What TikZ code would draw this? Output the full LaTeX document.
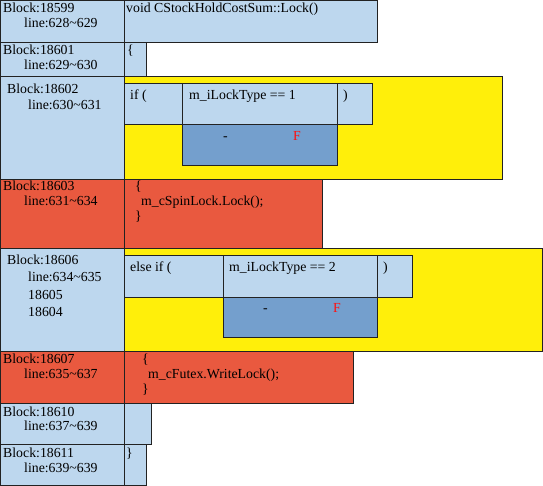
\documentclass[tikz,border=0pt]{standalone}
\usepackage{fontspec}
\setmainfont{Liberation Serif}
\definecolor{lb}{HTML}{BDD7EE}
\definecolor{db}{HTML}{749FCD}
\definecolor{yl}{HTML}{FFEF0A}
\definecolor{rd}{HTML}{E9593F}
\definecolor{bd}{HTML}{222222}
\definecolor{fr}{HTML}{FF1010}
\begin{document}
\begin{tikzpicture}[x=1pt,y=-1pt,
  box/.style={draw=bd, line width=1pt, inner sep=0pt, outer sep=0pt, anchor=north west},
  txt/.style={anchor=base west, inner sep=0pt, font=\fontsize{13.8}{15}\selectfont}]
\useasboundingbox (0,0) rectangle (543,486);
% row 1
\node[box, fill=lb, minimum width=124pt, minimum height=42pt] (l1) at (0.5,0.5) {};
\node[box, fill=lb, minimum width=253pt, minimum height=42pt] (r1) at (124.5,0.5) {};
% row 2
\node[box, fill=lb, minimum width=124pt, minimum height=34pt] (l2) at (0.5,42.5) {};
\node[box, fill=lb, minimum width=21.5pt, minimum height=34pt] (r2) at (124.5,42.5) {};
% row 3
\node[box, fill=lb, minimum width=124pt, minimum height=103pt] (l3) at (0.5,76.5) {};
\node[box, fill=yl, minimum width=378pt, minimum height=103pt] (y3) at (124.5,76.5) {};
\node[box, fill=lb, minimum width=58pt, minimum height=41pt] (if3) at (124.5,83.5) {};
\node[box, fill=lb, minimum width=155pt, minimum height=41pt] (c3) at (182.5,83.5) {};
\node[box, fill=lb, minimum width=35pt, minimum height=41pt] (p3) at (337.5,83.5) {};
\node[box, fill=db, minimum width=155pt, minimum height=41pt] (d3) at (182.5,124.5) {};
% row 4
\node[box, fill=rd, minimum width=124pt, minimum height=69pt] (l4) at (0.5,179.5) {};
\node[box, fill=rd, minimum width=197.5pt, minimum height=69pt] (r4) at (124.5,179.5) {};
% row 5
\node[box, fill=lb, minimum width=124pt, minimum height=102.5pt] (l5) at (0.5,248.5) {};
\node[box, fill=yl, minimum width=418pt, minimum height=102.5pt] (y5) at (124.5,248.5) {};
\node[box, fill=lb, minimum width=98.5pt, minimum height=41.5pt] (if5) at (124.5,255.5) {};
\node[box, fill=lb, minimum width=154.5pt, minimum height=41.5pt] (c5) at (223,255.5) {};
\node[box, fill=lb, minimum width=35pt, minimum height=41.5pt] (p5) at (377.5,255.5) {};
\node[box, fill=db, minimum width=154.5pt, minimum height=40.5pt] (d5) at (223,297) {};
% row 6
\node[box, fill=rd, minimum width=124pt, minimum height=52.5pt] (l6) at (0.5,351) {};
\node[box, fill=rd, minimum width=228.5pt, minimum height=52.5pt] (r6) at (124.5,351) {};
% row 7
\node[box, fill=lb, minimum width=124pt, minimum height=41pt] (l7) at (0.5,403.5) {};
\node[box, fill=lb, minimum width=26.5pt, minimum height=41pt] (r7) at (124.5,403.5) {};
% row 8
\node[box, fill=lb, minimum width=124pt, minimum height=41pt] (l8) at (0.5,444.5) {};
\node[box, fill=lb, minimum width=21.5pt, minimum height=41pt] (r8) at (124.5,444.5) {};
% texts row 1
\node[txt] (b1) at (3,13) {Block:18599};
\node[txt] (n1) at (24,28) {line:628\char`~629};
\node[txt] (s1) at (126,13) {void CStockHoldCostSum::Lock()};
% row 2
\node[txt] (b2) at (3,55) {Block:18601};
\node[txt] (n2) at (24,70) {line:629\char`~630};
\node[txt] (s2) at (127,55) {\{};
% row 3
\node[txt] (b3) at (7,94) {Block:18602};
\node[txt] (n3) at (28,110) {line:630\char`~631};
\node[txt] (s3a) at (130,100) {if (};
\node[txt] (s3b) at (189,100) {m\_iLockType == 1};
\node[txt] (s3c) at (343,100) {)};
\node[txt] (s3d) at (223,141) {-};
\node[txt, text=fr] (s3e) at (293,141) {F};
% row 4
\node[txt] (b4) at (3,191) {Block:18603};
\node[txt] (n4) at (24,206) {line:631\char`~634};
\node[txt] (s4a) at (135,191) {\{};
\node[txt] (s4b) at (141,206) {m\_cSpinLock.Lock();};
\node[txt] (s4c) at (135,221) {\}};
% row 5
\node[txt] (b5) at (7,265) {Block:18606};
\node[txt] (n5) at (28,281.5) {line:634\char`~635};
\node[txt] (n5b) at (28,299.5) {18605};
\node[txt] (n5c) at (28,316.5) {18604};
\node[txt] (s5a) at (130,272) {else if (};
\node[txt] (s5b) at (229,272) {m\_iLockType == 2};
\node[txt] (s5c) at (383,272) {)};
\node[txt] (s5d) at (263,312) {-};
\node[txt, text=fr] (s5e) at (333,312) {F};
% row 6
\node[txt] (b6) at (3,363) {Block:18607};
\node[txt] (n6) at (24,378) {line:635\char`~637};
\node[txt] (s6a) at (142,363) {\{};
\node[txt] (s6b) at (148,378) {m\_cFutex.WriteLock();};
\node[txt] (s6c) at (142,393) {\}};
% row 7
\node[txt] (b7) at (3,416) {Block:18610};
\node[txt] (n7) at (24,430) {line:637\char`~639};
% row 8
\node[txt] (b8) at (3,457) {Block:18611};
\node[txt] (n8) at (24,472) {line:639\char`~639};
\node[txt] (s8) at (126,457) {\}};
\end{tikzpicture}
\end{document}
